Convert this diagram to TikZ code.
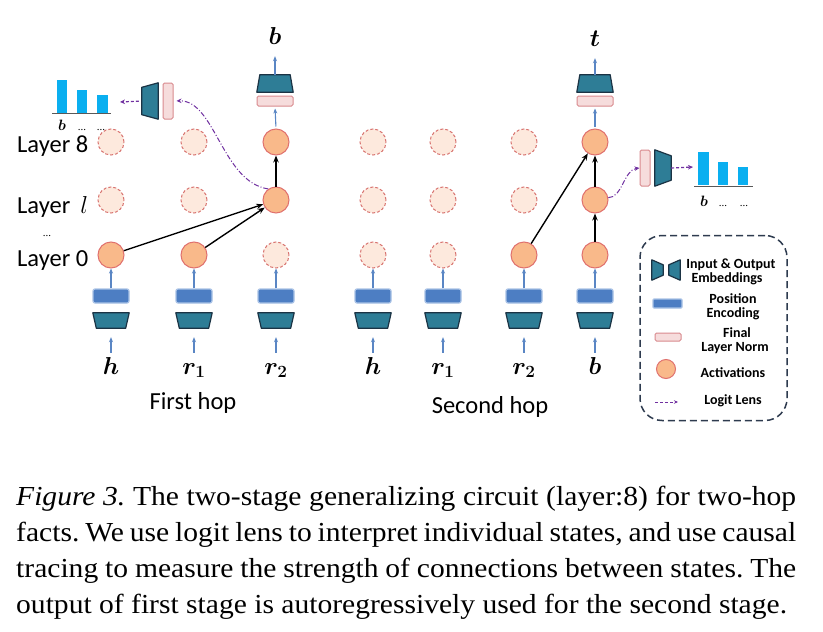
\RequirePackage{fix-cm}
\documentclass[tikz,border=0pt]{standalone}
\usepackage{amsmath}
\usepackage[no-math]{fontspec}
\setmainfont{Liberation Serif}
\setsansfont{Carlito}
\newfontfamily\capfont[FakeStretch=1.075]{Liberation Serif}
\usetikzlibrary{arrows.meta,calc}
\definecolor{actfill}{HTML}{F9B98A}
\definecolor{actdraw}{HTML}{E0716E}
\definecolor{deadfill}{HTML}{FDE9DD}
\definecolor{deaddraw}{HTML}{D97672}
\definecolor{pecol}{HTML}{4D7EC3}
\definecolor{peedge}{HTML}{A9C2E6}
\definecolor{embcol}{HTML}{2E7D96}
\definecolor{embedge}{HTML}{1B3344}
\definecolor{lnfill}{HTML}{F6DCDC}
\definecolor{lnedge}{HTML}{D98A8E}
\definecolor{barcol}{HTML}{0AAFF0}
\definecolor{lenscol}{HTML}{7030A0}
\definecolor{arrcol}{HTML}{5A86C4}
\definecolor{legcol}{HTML}{2E3B4F}
\newcommand\embin[1]{\draw[embshape] (#1.north west) -- (#1.north east) -- ([xshift=-3.5pt]#1.south east) -- ([xshift=3.5pt]#1.south west) -- cycle;}
\newcommand\embout[1]{\draw[embshape] (#1.south west) -- (#1.south east) -- ([xshift=-3pt]#1.north east) -- ([xshift=3pt]#1.north west) -- cycle;}
\newcommand\embrt[2]{\draw[embshape] (#1.north east) -- (#1.south east) -- ([yshift=#2]#1.south west) -- ([yshift=-#2]#1.north west) -- cycle;}
\newcommand\emblt[2]{\draw[embshape] (#1.north west) -- (#1.south west) -- ([yshift=#2]#1.south east) -- ([yshift=-#2]#1.north east) -- cycle;}
\newcommand\tokfont{\fontsize{24.5}{28}\selectfont}
\begin{document}
\begin{tikzpicture}[x=1pt,y=-1pt,
  act/.style={circle, minimum size=26pt, inner sep=0pt, fill=actfill, draw=actdraw, line width=1pt},
  dead/.style={circle, minimum size=26pt, inner sep=0pt, fill=deadfill, draw=deaddraw, line width=1pt, dash pattern=on 3pt off 2pt},
  pe/.style={rectangle, rounded corners=2pt, minimum width=36pt, minimum height=14pt, inner sep=0pt, fill=pecol, draw=peedge, line width=1.2pt},
  embbox/.style={rectangle, minimum width=36pt, minimum height=15pt, inner sep=0pt},
  embshape/.style={fill=embcol, draw=embedge, line width=1.2pt, line join=round},
  lnh/.style={rectangle, rounded corners=1.5pt, minimum width=36pt, minimum height=10pt, inner sep=0pt, fill=lnfill, draw=lnedge, line width=1pt},
  lnv/.style={rectangle, rounded corners=1.5pt, minimum width=10pt, minimum height=36pt, inner sep=0pt, fill=lnfill, draw=lnedge, line width=1pt},
  barrow/.style={draw=arrcol, line width=1.1pt, -{Stealth[length=5pt,width=4pt]}},
  conn/.style={draw=black, line width=1.4pt, -{Stealth[length=7pt,width=5.5pt]}},
  lens/.style={draw=lenscol, line width=1pt, dash pattern=on 5pt off 2pt on 1pt off 2pt, -{Stealth[length=5pt,width=4.5pt]}},
  lensd/.style={draw=lenscol, line width=1.2pt, dash pattern=on 3pt off 2pt, -{Stealth[length=5pt,width=4.5pt]}},
  tok/.style={anchor=base, inner sep=0pt, text height=15pt, text depth=4pt, font=\tokfont},
  layerlab/.style={anchor=base west, inner sep=0pt, font=\sffamily\fontsize{24.5}{27}\selectfont},
  hoplab/.style={anchor=base, inner sep=0pt, font=\sffamily\fontsize{24.5}{27}\selectfont},
  legtext/.style={anchor=base, inner sep=0pt, font=\sffamily\bfseries\fontsize{14}{15}\selectfont},
  smalldots/.style={anchor=base, inner sep=0pt, font=\fontsize{11}{12}\selectfont},
  barlab/.style={anchor=base, inner sep=0pt, font=\fontsize{15}{16}\selectfont},
  capline/.style={anchor=base west, inner sep=0pt, font=\capfont\fontsize{27.5}{36}\selectfont\frenchspacing}
]
\fill[white] (0,0) rectangle (823,632);
\useasboundingbox (0,0) rectangle (823,632);

% layer labels
\node[layerlab] (lab8) at (17,152) {Layer 8};
\node[layerlab] (labl) at (17,213) {Layer\hspace{10pt}$l$};
\node[smalldots] (labd) at (47,236) {...};
\node[layerlab] (lab0) at (17,266) {Layer 0};

% activation circles
\node[dead] (c1-8) at (111,142) {};
\node[dead] (c1-l) at (111,200) {};
\node[act]  (c1-0) at (111,255) {};
\node[dead] (c2-8) at (194,142) {};
\node[dead] (c2-l) at (194,200) {};
\node[act]  (c2-0) at (194,255) {};
\node[act]  (c3-8) at (276,142) {};
\node[act]  (c3-l) at (276,200) {};
\node[dead] (c3-0) at (276,255) {};
\node[dead] (c4-8) at (373,142) {};
\node[dead] (c4-l) at (373,200) {};
\node[dead] (c4-0) at (373,255) {};
\node[dead] (c5-8) at (443,142) {};
\node[dead] (c5-l) at (443,200) {};
\node[dead] (c5-0) at (443,255) {};
\node[dead] (c6-8) at (524,142) {};
\node[dead] (c6-l) at (524,200) {};
\node[act]  (c6-0) at (524,255) {};
\node[act]  (c7-8) at (595,142) {};
\node[act]  (c7-l) at (595,200) {};
\node[act]  (c7-0) at (595,255) {};

% tokens
\node[tok] (t1) at (111,374) {$\boldsymbol{h}$};
\node[tok] (t2) at (194,374) {$\boldsymbol{r_1}$};
\node[tok] (t3) at (276,374) {$\boldsymbol{r_2}$};
\node[tok] (t4) at (373,374) {$\boldsymbol{h}$};
\node[tok] (t5) at (443,374) {$\boldsymbol{r_1}$};
\node[tok] (t6) at (524,374) {$\boldsymbol{r_2}$};
\node[tok] (t7) at (595,374) {$\boldsymbol{b}$};

% input stacks
\foreach \i/\x in {1/111,2/194,3/276,4/373,5/443,6/524,7/595}{
  \node[pe] (p\i) at (\x,296) {};
  \node[embbox] (e\i) at (\x,320.5) {};
  \embin{e\i}
  \draw[barrow] (p\i.north) -- (c\i-0.south);
  \draw[barrow, shorten <=6pt, shorten >=9pt] (t\i.north) -- (e\i.south);
}

% output stacks
\node[tok] (ot3) at (275,44) {$\boldsymbol{b}$};
\node[tok] (ot7) at (595,46) {$\boldsymbol{t}$};
\foreach \i/\x in {3/275,7/595}{
  \node[lnh] (n\i) at (\x,101) {};
  \node[embbox, minimum height=17pt] (o\i) at (\x,83.5) {};
  \embout{o\i}
  \draw[barrow, shorten <=2pt, shorten >=2pt] (c\i-8.north) -- (n\i.south);
  \draw[barrow, shorten >=8pt] (o\i.north) -- (ot\i.south);
}

% circuit connections
\draw[conn] (c1-0) -- (c3-l);
\draw[conn] (c2-0) -- (c3-l);
\draw[conn] (c3-l) -- (c3-8);
\draw[conn] (c6-0) -- (c7-8);
\draw[conn] (c7-0) -- (c7-l);
\draw[conn] (c7-l) -- (c7-8);

% left logit lens
\node[lnv] (lnl) at (168,101) {};
\node[embbox, minimum width=16pt, minimum height=36pt] (lt) at (150,101) {};
\embrt{lt}{4.5pt}
\draw[lens, shorten >=3pt] (c3-l.125) .. controls (222,182) and (215,100) .. (lnl.east);
\coordinate (lchart) at (120,102);
\draw[lensd, shorten <=3pt] (lt.west) -- (lchart);
\fill[barcol] (57,80) rectangle (67,113);
\fill[barcol] (77,90) rectangle (87,113);
\fill[barcol] (97,95) rectangle (108,113);
\draw[gray!70!black, line width=0.8pt] (52,113) -- (111,113);
\node[barlab] (lb1) at (62,130) {$\boldsymbol{b}$};
\node[smalldots] (lb2) at (82,130) {...};
\node[smalldots] (lb3) at (101,130) {...};

% right logit lens
\node[lnv] (lnr) at (645,168) {};
\node[embbox, minimum width=16pt, minimum height=36pt] (rt) at (663,168) {};
\emblt{rt}{6pt}
\draw[lens] (c7-l.10) .. controls (622,198) and (624,170) .. (lnr.west);
\coordinate (rchart) at (693,167);
\draw[lensd] (rt.east) -- (rchart);
\fill[barcol] (698,152) rectangle (709,185);
\fill[barcol] (718,162) rectangle (728,185);
\fill[barcol] (738,167) rectangle (748,185);
\draw[gray!70!black, line width=0.8pt] (694,186) -- (753,186);
\node[barlab] (rb1) at (704,206) {$\boldsymbol{b}$};
\node[smalldots] (rb2) at (723,206) {...};
\node[smalldots] (rb3) at (744,206) {...};

% hop labels
\node[hoplab] (hop1) at (193,409) {First hop};
\node[hoplab] (hop2) at (490,413) {Second hop};

% legend
\node[draw=legcol, line width=1.5pt, dash pattern=on 7pt off 4pt, rounded corners=22pt, minimum width=147pt, minimum height=185pt, inner sep=0pt] (leg) at (713.5,328) {};
\node[embbox, minimum width=11pt, minimum height=20pt] (li1) at (657.5,270) {};
\emblt{li1}{5pt}
\node[embbox, minimum width=11pt, minimum height=20pt] (li2) at (674.5,270) {};
\embrt{li2}{5pt}
\node[legtext] (lt1) at (731,268) {Input \& Output};
\node[legtext] (lt2) at (727,282) {Embeddings};
\node[pe, minimum width=29pt, minimum height=9pt, rounded corners=1pt] (lp) at (667.5,303.5) {};
\node[legtext] (lt3) at (733,303) {Position};
\node[legtext] (lt4) at (733,317) {Encoding};
\node[lnh, minimum width=26pt, minimum height=8pt] (ll) at (668,337) {};
\node[legtext] (lt5) at (737,337) {Final};
\node[legtext] (lt6) at (735,351) {Layer Norm};
\node[act, minimum size=19pt] (la) at (666,369) {};
\node[legtext] (lt7) at (733,377) {Activations};
\coordinate (lg1) at (655,402);
\coordinate (lg2) at (678,402);
\draw[lensd, line width=1pt, -{Stealth[length=4pt,width=3.5pt]}] (lg1) -- (lg2);
\node[legtext] (lt8) at (733,404) {Logit Lens};

% caption
\node[capline] (cap1) at (16,505) {\makebox[780pt][s]{\textit{Figure 3.} The two-stage generalizing circuit (layer:8) for two-hop}};
\node[capline] (cap2) at (16,541) {\makebox[780pt][s]{facts. We use logit lens to interpret individual states, and use causal}};
\node[capline] (cap3) at (16,577) {\makebox[780pt][s]{tracing to measure the strength of connections between states. The}};
\node[capline] (cap4) at (16,613) {output of first stage is autoregressively used for the second stage.};
\end{tikzpicture}
\end{document}
